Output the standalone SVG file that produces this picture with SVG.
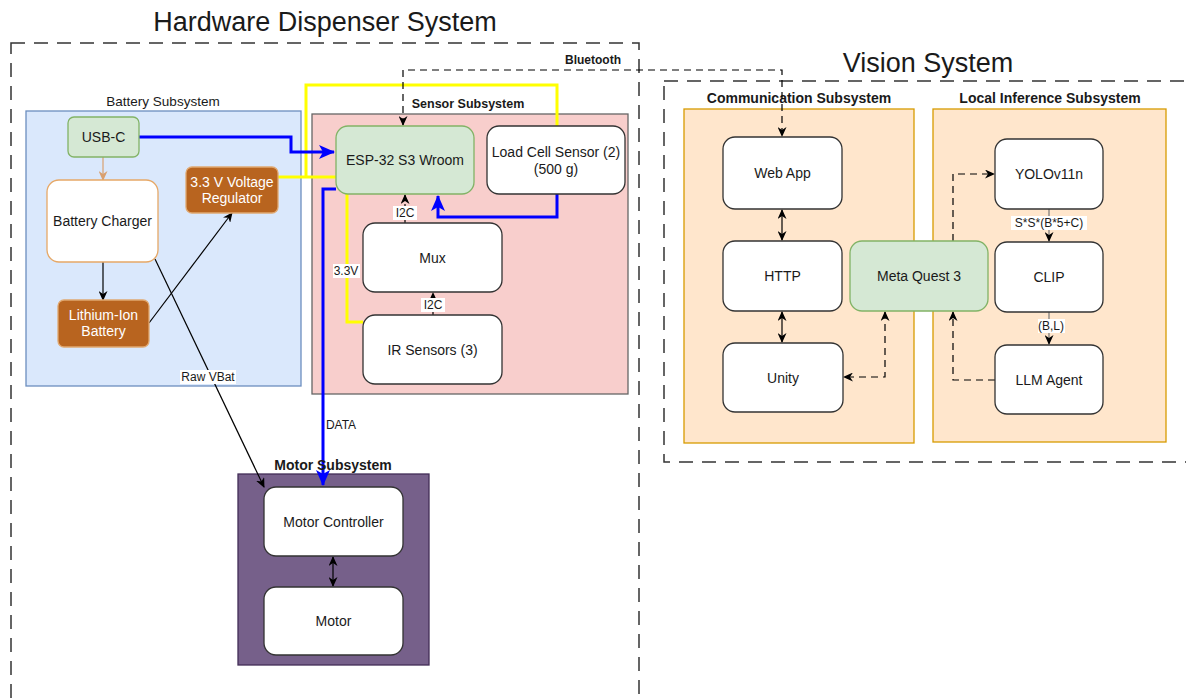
<svg xmlns="http://www.w3.org/2000/svg" width="1186" height="700" viewBox="0 0 1186 700">
<defs>
<marker id="ab" markerUnits="userSpaceOnUse" markerWidth="10" markerHeight="9" refX="9" refY="4.5" orient="auto-start-reverse" viewBox="0 0 10 9"><path d="M0,0 L10,4.5 L0,9 L3,4.5 z" fill="#000"/></marker>
<marker id="abl" markerUnits="userSpaceOnUse" markerWidth="16" markerHeight="14" refX="15" refY="7" orient="auto-start-reverse" viewBox="0 0 16 14"><path d="M0,0 L16,7 L0,14 L4,7 z" fill="#0000ff"/></marker>
<marker id="ao" markerUnits="userSpaceOnUse" markerWidth="10" markerHeight="9" refX="9" refY="4.5" orient="auto" viewBox="0 0 10 9"><path d="M0,0 L10,4.5 L0,9 L3,4.5 z" fill="#d9a070"/></marker>
</defs>
<style>
text{font-family:"Liberation Sans",Arial,sans-serif;fill:#1a1a1a}
.t{font-size:14px;text-anchor:middle;dominant-baseline:central}
.lb{font-size:14px;font-weight:bold;text-anchor:middle;dominant-baseline:central}
.el{font-size:12px;text-anchor:middle;dominant-baseline:central}
.title{font-size:27px;text-anchor:middle}
.node{fill:#fff;stroke:#333;stroke-width:1.3}
.green{fill:#d5e8d4;stroke:#82b366;stroke-width:1.3}
.brown{fill:#b8641f;stroke:#e0a870;stroke-width:1.3}
.wt{fill:#fff}
.big{fill:none;stroke:#333;stroke-width:1.5;stroke-dasharray:14 9}
.k{fill:none;stroke:#000;stroke-width:1.2}
.kd{fill:none;stroke:#000;stroke-width:1.2;stroke-dasharray:7 5}
.blue{fill:none;stroke:#0000ff;stroke-width:3}
.yel{fill:none;stroke:#ffff00;stroke-width:3}
.bg{fill:#fff}
</style>

<g id="hardware-system">
<rect class="big" x="11" y="43" width="628" height="700"/>
<text class="title" x="325" y="31">Hardware Dispenser System</text>
</g>
<g id="vision-system">
<rect class="big" x="664" y="81" width="560" height="381"/>
<text class="title" x="928" y="72">Vision System</text>
</g>

<g id="battery-subsystem">
<rect x="26" y="111" width="275" height="275" fill="#dae8fc" stroke="#6c8ebf" stroke-width="1.3"/>
<text class="el" x="163" y="101" style="font-size:13.5px">Battery Subsystem</text>
</g>
<g id="sensor-subsystem">
<rect x="312" y="114" width="316" height="280" fill="#f8cecc" stroke="#666" stroke-width="1.3"/>
<text class="lb" x="468" y="104" style="font-size:12.5px">Sensor Subsystem</text>
</g>
<g id="motor-subsystem">
<rect x="238" y="474" width="191" height="191" fill="#76608a" stroke="#432d57" stroke-width="1.3"/>
</g>
<g id="communication-subsystem">
<rect x="684" y="109" width="230" height="334" fill="#ffe6cc" stroke="#d79b00" stroke-width="1.3"/>
<text class="lb" x="799" y="98">Communication Subsystem</text>
</g>
<g id="local-inference-subsystem">
<rect x="933" y="109" width="233" height="333" fill="#ffe6cc" stroke="#d79b00" stroke-width="1.3"/>
<text class="lb" x="1050" y="98">Local Inference Subsystem</text>
</g>

<g id="connectors">
<path d="M103,157 L103,180" fill="none" stroke="#d9a070" stroke-width="1.2" marker-end="url(#ao)"/>
<path class="k" d="M103,262 L103,300" marker-end="url(#ab)"/>
<path class="k" d="M149,323 L232,213" marker-end="url(#ab)"/>
<path class="k" d="M155,259 L264,487" marker-end="url(#ab)"/>
<path class="yel" d="M278,177 L336,177"/>
<path class="yel" d="M306,177 L306,85 L557,85 L557,126"/>
<path class="yel" d="M347,194 L347,322 L363,322"/>
<path class="blue" d="M139,137 L291,137 L291,152 L334,152" marker-end="url(#abl)"/>
<path class="blue" d="M557,194 L557,217 L438,217 L438,196" marker-end="url(#abl)"/>
<path class="blue" d="M336,189 L323,189 L323,485" marker-end="url(#abl)"/>
<path class="kd" d="M405,223 L405,195" stroke-dasharray="3 3" marker-end="url(#ab)"/>
<path class="kd" d="M433,315 L433,293" stroke-dasharray="3 3" marker-end="url(#ab)"/>
<path class="kd" d="M403,125 L403,70 L782,70 L782,136" marker-start="url(#ab)" marker-end="url(#ab)"/>
<path class="k" d="M333,557 L333,586" marker-start="url(#ab)" marker-end="url(#ab)"/>
<path class="k" d="M782,210 L782,240" marker-start="url(#ab)" marker-end="url(#ab)"/>
<path class="k" d="M782,312 L782,342" marker-start="url(#ab)" marker-end="url(#ab)"/>
<path class="kd" d="M953,241 L953,174 L994,174" marker-end="url(#ab)"/>
<path d="M1049,209 L1049,241" fill="none" stroke="#777" stroke-width="1.2" marker-end="url(#ab)"/>
<path d="M1049,312 L1049,344" fill="none" stroke="#777" stroke-width="1.2" marker-end="url(#ab)"/>
<path class="kd" d="M995,380 L953,380 L953,312" marker-end="url(#ab)"/>
<path class="kd" d="M885,312 L885,377 L844,377" marker-start="url(#ab)" marker-end="url(#ab)"/>
<rect class="bg" x="180" y="370" width="56" height="14"/>
<text class="el" x="208" y="377">Raw VBat</text>
<rect class="bg" x="393" y="206" width="24" height="14"/>
<text class="el" x="405" y="213">I2C</text>
<rect class="bg" x="421" y="298" width="24" height="14"/>
<text class="el" x="433" y="305">I2C</text>
<rect class="bg" x="333" y="264" width="27" height="14"/>
<text class="el" x="346" y="271">3.3V</text>
<text class="el" x="341" y="425">DATA</text>
<text class="lb" x="593" y="60" style="font-size:12px">Bluetooth</text>
<rect class="bg" x="1011" y="216" width="76" height="14"/>
<text class="el" x="1049" y="223">S*S*(B*5+C)</text>
<rect class="bg" x="1038" y="319" width="27" height="14"/>
<text class="el" x="1051" y="326">(B,L)</text>
<text class="lb" x="333" y="465">Motor Subsystem</text>
</g>

<g id="usb-c"><rect class="green" x="68" y="117" width="71" height="40" rx="6"/><text class="t" x="103.5" y="137">USB-C</text></g>
<g id="battery-charger"><rect x="47" y="180" width="111" height="82" rx="12" fill="#fff" stroke="#e6a867" stroke-width="1.3"/><text class="t" x="102.5" y="221">Battery Charger</text></g>
<g id="voltage-regulator"><rect class="brown" x="186" y="167" width="92" height="46" rx="6"/><text class="t wt" x="232" y="182">3.3 V Voltage</text><text class="t wt" x="232" y="198">Regulator</text></g>
<g id="lithium-ion-battery"><rect class="brown" x="58" y="300" width="91" height="47" rx="6"/><text class="t wt" x="103.5" y="315">Lithium-Ion</text><text class="t wt" x="103.5" y="331">Battery</text></g>
<g id="esp32"><rect class="green" x="336" y="126" width="138" height="68" rx="12"/><text class="t" x="405" y="160">ESP-32 S3 Wroom</text></g>
<g id="load-cell"><rect class="node" x="487" y="126" width="138" height="68" rx="12"/><text class="t" x="556" y="152">Load Cell Sensor (2)</text><text class="t" x="556" y="169">(500 g)</text></g>
<g id="mux"><rect class="node" x="363" y="223" width="139" height="69" rx="12"/><text class="t" x="432.5" y="257.5">Mux</text></g>
<g id="ir-sensors"><rect class="node" x="363" y="315" width="139" height="69" rx="12"/><text class="t" x="432.5" y="350">IR Sensors (3)</text></g>
<g id="motor-controller"><rect class="node" x="264" y="487" width="139" height="69" rx="12"/><text class="t" x="333.5" y="521.5">Motor Controller</text></g>
<g id="motor"><rect class="node" x="264" y="587" width="139" height="68" rx="12"/><text class="t" x="333.5" y="621">Motor</text></g>
<g id="web-app"><rect class="node" x="723" y="137" width="119" height="72" rx="12"/><text class="t" x="782.5" y="173">Web App</text></g>
<g id="http"><rect class="node" x="723" y="241" width="119" height="70" rx="12"/><text class="t" x="782.5" y="276">HTTP</text></g>
<g id="unity"><rect class="node" x="723" y="343" width="120" height="69" rx="12"/><text class="t" x="783" y="377.5">Unity</text></g>
<g id="meta-quest"><rect class="green" x="850" y="241" width="138" height="70" rx="12"/><text class="t" x="919" y="276">Meta Quest 3</text></g>
<g id="yolo"><rect class="node" x="995" y="139" width="108" height="70" rx="12"/><text class="t" x="1049" y="174">YOLOv11n</text></g>
<g id="clip"><rect class="node" x="995" y="242" width="108" height="70" rx="12"/><text class="t" x="1049" y="277">CLIP</text></g>
<g id="llm-agent"><rect class="node" x="995" y="345" width="108" height="69" rx="12"/><text class="t" x="1049" y="379.5">LLM Agent</text></g>
</svg>
